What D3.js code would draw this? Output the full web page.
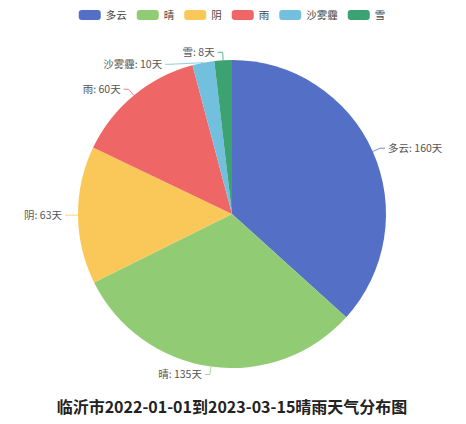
<!DOCTYPE html>
<html><head><meta charset="utf-8">
<script src="https://cdn.jsdelivr.net/npm/d3@7"></script>
<style>
html,body{margin:0;padding:0;background:#fff;}
svg{display:block;font-family:"Noto Sans CJK SC","Noto Sans",sans-serif;}
</style></head>
<body>
<svg id="c" width="466" height="424"></svg>
<script>
const categories = ["多云","晴","阴","雨","沙雾霾","雪"];
const values = [160,135,63,60,10,8];
const colors = ["#5470c6","#91cc75","#fac858","#ee6666","#73c0de","#3ba272"];
const titleText = "临沂市2022-01-01到2023-03-15晴雨天气分布图";
const unit = "天";

const W=466,H=424, cx=232, cy=214, R=154;
const len1=8, len2=5, gap=3;
const svg=d3.select("#c");
const data=categories.map((c,i)=>({name:c,value:values[i],color:colors[i]}));

const pie=d3.pie().sort(null).value(d=>d.value);
const arcs=pie(data);
const arcGen=d3.arc().innerRadius(0).outerRadius(R);
const g=svg.append("g").attr("transform",`translate(${cx},${cy})`);
g.selectAll("path").data(arcs).join("path").attr("d",arcGen).attr("fill",d=>d.data.color);

// label layout (echarts-like)
const labels=arcs.map(a=>{
  const m=(a.startAngle+a.endAngle)/2;
  const p0=[R*Math.sin(m), -R*Math.cos(m)];
  const p1=[(R+len1)*Math.sin(m), -(R+len1)*Math.cos(m)];
  return {a, m, p0, p1, right: p1[0]>=0, y:p1[1]};
});
const minGap=12;
["L","R"].forEach(side=>{
  const arr=labels.filter(l=>(side==="R")===l.right).sort((a,b)=>a.y-b.y);
  for(let i=1;i<arr.length;i++){
    if(arr[i].y<arr[i-1].y+minGap){
      arr[i].y=arr[i-1].y+minGap;
      const r1=R+len1, dy=Math.min(Math.abs(arr[i].y),r1);
      const dx=Math.sqrt(r1*r1-dy*dy);
      arr[i].p1=[arr[i].right?dx:-dx, arr[i].y];
    }
  }
});
labels.forEach(l=>{
  const s=l.right?1:-1;
  const p2=[l.p1[0]+s*len2, l.p1[1]];
  g.append("polyline").attr("points",[l.p0,l.p1,p2].map(p=>p.join(",")).join(" "))
    .attr("fill","none").attr("stroke",l.a.data.color).attr("stroke-width",1).attr("opacity",0.8);
  g.append("text").attr("x",p2[0]+s*gap).attr("y",p2[1]).attr("dy","0.35em")
    .attr("text-anchor",l.right?"start":"end").attr("font-size",10.5).attr("fill","#555")
    .text(`${l.a.data.name}: ${l.a.data.value}${unit}`);
});

// legend
const lg=svg.append("g");
const rw=22, rh=10, tg=5, ig=10, ly=15;
let x=0;
data.forEach(d=>{
  const it=lg.append("g");
  it.append("rect").attr("width",rw).attr("height",rh).attr("rx",3).attr("y",ly-rh/2).attr("fill",d.color);
  const t=it.append("text").attr("x",rw+tg).attr("y",ly).attr("dy","0.35em").attr("font-size",10.5).attr("fill","#444").text(d.name);
  const w=rw+tg+t.node().getComputedTextLength();
  it.attr("transform",`translate(${x},0)`);
  x+=w+ig;
});
const total=x-ig;
lg.attr("transform",`translate(${cx-total/2},0)`);

svg.append("text").attr("x",cx).attr("y",407).attr("dy","0.35em").attr("text-anchor","middle")
  .attr("font-size",16).attr("font-weight","bold").attr("fill","#222").text(titleText);
</script>
</body></html>
